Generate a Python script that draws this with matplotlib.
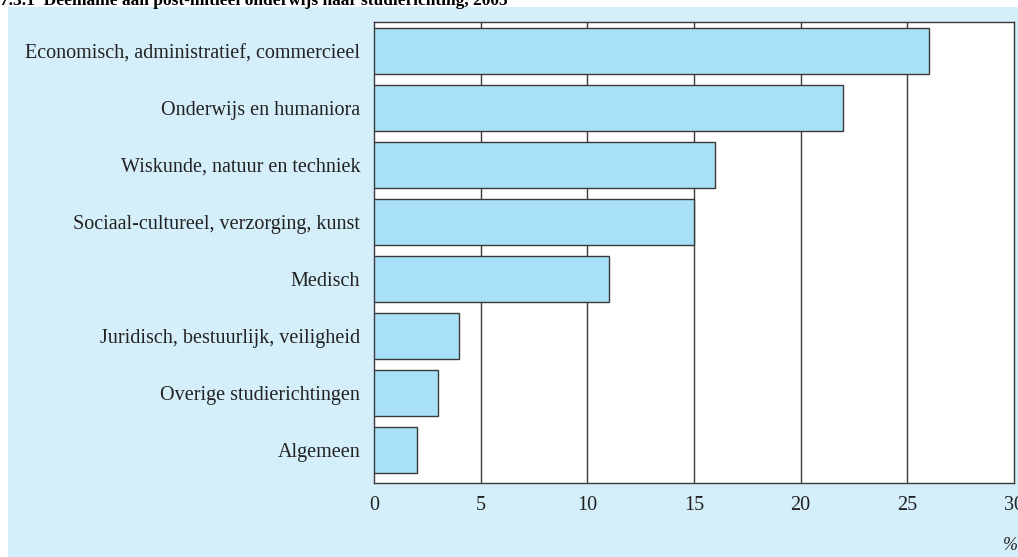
import matplotlib
matplotlib.use("Agg")
import matplotlib.pyplot as plt
from matplotlib.patches import Rectangle

# Deelname aan post-initieel onderwijs naar studierichting (%)
categorieen = [
    "Economisch, administratief, commercieel",
    "Onderwijs en humaniora",
    "Wiskunde, natuur en techniek",
    "Sociaal-cultureel, verzorging, kunst",
    "Medisch",
    "Juridisch, bestuurlijk, veiligheid",
    "Overige studierichtingen",
    "Algemeen",
]
waarden = [26, 22, 16, 15, 11, 4, 3, 2]
xticks = [0, 5, 10, 15, 20, 25, 30]

achtergrond = "#d4eefa"
balkkleur = "#a8e0f8"
lijnkleur = "#3a3a3a"

plt.rcParams["font.family"] = ["Liberation Serif", "DejaVu Serif"]

fig = plt.figure(figsize=(10.18, 5.57), dpi=100)
fig.patch.set_facecolor("white")
fig.patches.append(
    Rectangle((8 / 1018, 0), 1, 1 - 7 / 557, transform=fig.transFigure,
              facecolor=achtergrond, edgecolor="none", zorder=-5)
)

# titel, bovenaan half afgesneden
fig.text(0.0, 1 - 5 / 557, "7.3.1  Deelname aan post-initieel onderwijs naar studierichting, 2005",
         fontsize=12.5, fontweight="bold", va="baseline", ha="left", zorder=-4)

ax = fig.add_axes([374 / 1018, 1 - 483 / 557, 640 / 1018, 461 / 557])
ax.set_facecolor("white")

n = len(categorieen)
ypos = list(range(n - 1, -1, -1))
ax.barh(ypos, waarden, height=0.8, color=balkkleur, edgecolor=lijnkleur,
        linewidth=1.0, zorder=3)

ax.set_xlim(0, 30)
ax.set_ylim(-0.58, n - 1 + 0.51)
ax.set_xticks(xticks)
ax.set_xticklabels([str(t) for t in xticks], fontsize=14.5, color="#222222")
ax.set_yticks(ypos)
ax.set_yticklabels(categorieen, fontsize=14.5, color="#222222")
ax.tick_params(axis="both", length=0)
ax.tick_params(axis="x", pad=9)
ax.tick_params(axis="y", pad=10)

for t in xticks[1:-1]:
    ax.axvline(t, color=lijnkleur, linewidth=1.0, zorder=1)

for s in ax.spines.values():
    s.set_color(lijnkleur)
    s.set_linewidth(1.0)

fig.text(1010 / 1018, 1 - 545 / 557, "%", fontsize=13, style="italic",
         ha="center", va="center", color="#222222")

fig.savefig("out.png", dpi=100, facecolor=fig.get_facecolor())
